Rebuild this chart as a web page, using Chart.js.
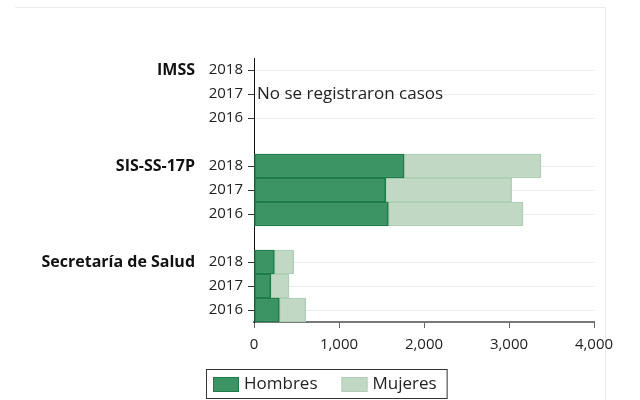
<!DOCTYPE html>
<html><head><meta charset="utf-8">
<script src="https://cdn.jsdelivr.net/npm/chart.js@4"></script>
<style>html,body{margin:0;padding:0;background:#fff}</style>
</head><body>
<canvas id="c" width="640" height="400"></canvas>
<script>
const categories = ['2018','2017','2016','','2018','2017','2016','','2018','2017','2016'];
const hombres = [null,null,null,null,1765,1549,1580,null,239,196,298];
const mujeres = [null,null,null,null,1611,1482,1585,null,228,216,310];
const groups = ['IMSS','SIS-SS-17P','Secretaría de Salud'];
const groupRows = [0,4,8];
const xTicks = [0,1000,2000,3000,4000];
const noteText = 'No se registraron casos';
const noteRow = 1;
const seriesNames = ['Hombres','Mujeres'];
const FONT = "'Open Sans', sans-serif";
const colH = 'rgb(60,148,100)', colHb = 'rgb(28,125,72)';
const colM = 'rgb(193,216,197)', colMb = 'rgb(176,206,182)';

const overlay = {
  id:'overlay',
  beforeDraw(chart){
    const c = chart.ctx; c.save();
    c.strokeStyle='#ebebeb'; c.lineWidth=1;
    c.beginPath(); c.moveTo(15,7.5); c.lineTo(605.5,7.5); c.lineTo(605.5,400); c.stroke();
    c.restore();
  },
  afterDraw(chart){
    const c=chart.ctx, y=chart.scales.y;
    c.save();
    c.font = "bold 16px "+FONT; c.fillStyle='#111'; c.textAlign='right'; c.textBaseline='middle';
    groups.forEach((g,i)=>c.fillText(g,195,y.getPixelForValue(groupRows[i])));
    c.font = "17px "+FONT; c.textAlign='left'; c.fillStyle='#222';
    c.fillText(noteText, chart.chartArea.left+3, y.getPixelForValue(noteRow));
    // legend
    const ds = chart.data.datasets;
    c.font = "17px "+FONT;
    const sw=26, sh=15, gapS=5, gapItem=24, padL=7, padR=10;
    const widths = ds.map(d=>c.measureText(d.label).width);
    let total = padL + padR;
    widths.forEach((w,i)=>{ total += sw+gapS+w + (i<widths.length-1?gapItem:0); });
    const bx = Math.round(326-total/2), by=369, bh=29;
    c.strokeStyle='#333'; c.lineWidth=1;
    c.strokeRect(bx+0.5,by+0.5,total,bh);
    let x = bx+padL;
    ds.forEach((d,i)=>{
      c.fillStyle=d.backgroundColor; c.fillRect(x,by+8,sw,sh);
      c.strokeStyle=d.borderColor; c.strokeRect(x+0.5,by+8.5,sw-1,sh-1);
      c.fillStyle='#222'; c.textBaseline='middle';
      c.fillText(d.label, x+sw+gapS, by+bh/2+1);
      x += sw+gapS+widths[i]+gapItem;
    });
    c.restore();
  }
};

new Chart(document.getElementById('c'), {
  type:'bar',
  data:{
    labels: categories,
    datasets:[
      {label:seriesNames[0], data:hombres, backgroundColor:colH, borderColor:colHb, borderWidth:1.5, borderSkipped:false, barPercentage:1, categoryPercentage:1},
      {label:seriesNames[1], data:mujeres, backgroundColor:colM, borderColor:colMb, borderWidth:1.5, borderSkipped:false, barPercentage:1, categoryPercentage:1}
    ]
  },
  options:{
    indexAxis:'y', responsive:false, animation:false,
    layout:{padding:{top:58,right:46,left:0,bottom:0}},
    plugins:{legend:{display:false}, tooltip:{enabled:false}},
    scales:{
      x:{
        stacked:true, min:0, max:4000,
        afterBuildTicks(s){ s.ticks = xTicks.map(v=>({value:v})); },
        afterFit(s){ s.height = 78; },
        ticks:{font:{family:FONT,size:15}, color:'#222', padding:8, maxRotation:0,
          callback:v=>Number(v).toLocaleString('en-US')},
        grid:{drawOnChartArea:false, tickLength:6, tickColor:'#666', lineWidth:1},
        border:{color:'#777', width:2}
      },
      y:{
        stacked:true,
        afterFit(s){ s.width = 254; },
        ticks:{font:{family:FONT,size:15}, color:'#222', padding:5, autoSkip:false},
        grid:{offset:false, tickLength:6, lineWidth:1,
          color:ctx=> categories[ctx.index]==='' ? 'rgba(0,0,0,0)' : '#e6eef0',
          tickColor:ctx=> categories[ctx.index]==='' ? 'rgba(0,0,0,0)' : '#333'},
        border:{color:'#111', width:1}
      }
    }
  },
  plugins:[overlay]
});
</script>
</body></html>
